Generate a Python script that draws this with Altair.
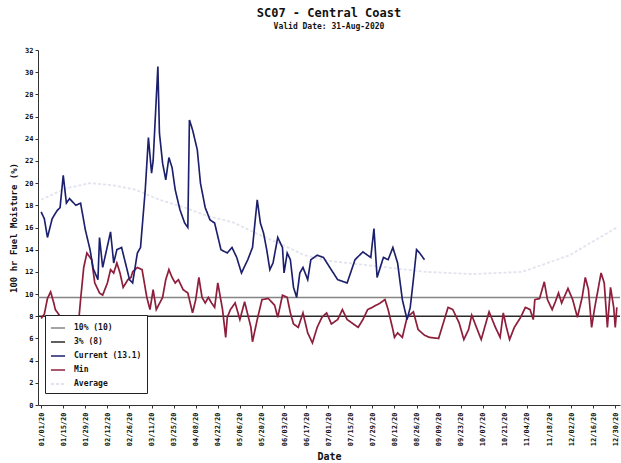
import altair as alt
import pandas as pd

# 100-hr fuel moisture, SC07 - Central Coast, 2020 (day offsets from 2020-01-01)
CUR_DAY = [0, 2, 4, 7, 10, 12, 14, 16, 18, 22, 25, 28, 31, 33, 36, 37, 39, 44, 46, 48,
           51, 55, 56, 58, 61, 63, 66, 68, 70, 71, 74, 75, 77, 79, 81, 83, 85, 88, 91, 93,
           94, 96, 99, 101, 104, 107, 110, 114, 118, 121, 124, 127, 131, 134, 137, 139, 141, 143, 145, 147,
           150, 153, 154, 156, 158, 160, 162, 164, 166, 169, 171, 175, 179, 183, 188, 194, 199, 204, 209, 211,
           213, 217, 220, 223, 226, 229, 231, 232, 234, 236, 238, 240, 243]
CUR_VAL = [17.4, 16.8, 15.1, 16.8, 17.5, 17.8, 20.7, 18.2, 18.6, 18.0, 18.2, 15.8, 14.0, 12.3, 11.3, 15.1, 12.4, 15.6, 12.8, 14.0,
           14.2, 11.9, 11.3, 11.0, 13.7, 14.2, 19.4, 24.1, 20.9, 22.0, 30.5, 24.5, 21.8, 20.3, 22.3, 21.4, 19.4, 17.6, 16.4, 16.0,
           25.7, 24.8, 23.0, 20.0, 17.8, 16.7, 16.4, 14.0, 13.7, 14.2, 13.3, 11.9, 13.1, 14.2, 18.5, 16.4, 15.5, 14.0, 12.2, 12.8,
           15.1, 14.2, 11.9, 13.7, 13.1, 10.6, 9.7, 11.9, 12.4, 11.3, 13.1, 13.5, 13.3, 12.4, 11.3, 11.0, 13.1, 13.8, 13.3, 15.9,
           11.5, 13.3, 13.1, 14.2, 12.8, 9.5, 8.3, 7.7, 8.8, 11.3, 14.0, 13.7, 13.1]

MIN_DAY = [0, 2, 4, 6, 8, 9, 12, 14, 16, 18, 20, 22, 24, 25, 27, 29, 32, 34, 37, 39,
           42, 44, 46, 48, 50, 52, 55, 57, 58, 61, 64, 67, 69, 71, 73, 77, 79, 81, 83, 85,
           87, 90, 93, 96, 98, 100, 102, 104, 106, 108, 110, 112, 115, 117, 118, 120, 123, 126, 129, 133,
           134, 137, 140, 144, 148, 150, 153, 156, 158, 160, 163, 166, 169, 172, 175, 178, 181, 184, 188, 191,
           194, 198, 201, 204, 207, 210, 215, 218, 220, 223, 224, 226, 229, 232, 236, 239, 243, 246, 252, 255,
           258, 261, 265, 268, 271, 273, 276, 279, 282, 284, 288, 291, 293, 295, 297, 300, 304, 307, 310, 312,
           313, 316, 319, 321, 324, 326, 328, 330, 334, 337, 340, 343, 345, 347, 349, 351, 355, 357, 359, 361,
           363, 364, 365]
MIN_VAL = [7.8, 8.2, 9.6, 10.2, 9.2, 8.6, 8.0, 7.6, 7.2, 7.5, 7.8, 7.4, 7.9, 9.5, 12.4, 13.7, 13.1, 11.0, 10.1, 9.9,
           11.0, 12.2, 11.9, 12.8, 11.9, 10.6, 11.3, 11.5, 12.0, 12.4, 12.2, 9.7, 8.6, 10.4, 8.6, 9.7, 11.3, 12.2, 11.5, 11.0,
           11.3, 10.4, 10.1, 8.3, 9.5, 11.5, 9.7, 9.2, 9.7, 9.2, 8.8, 11.0, 8.6, 6.1, 7.9, 8.6, 9.2, 7.7, 9.3, 7.0,
           5.7, 7.7, 9.5, 9.6, 9.0, 7.9, 9.9, 9.7, 8.3, 7.3, 7.0, 8.3, 6.5, 5.6, 7.0, 7.9, 8.3, 7.3, 7.7, 8.6,
           7.7, 7.3, 7.0, 7.7, 8.6, 8.8, 9.2, 9.5, 8.6, 6.8, 6.1, 6.5, 6.1, 7.9, 8.4, 6.8, 6.3, 6.1, 6.0, 7.4,
           8.8, 8.6, 7.4, 5.9, 6.8, 8.1, 7.0, 5.9, 7.4, 8.4, 7.0, 6.1, 8.3, 7.0, 5.9, 7.0, 7.9, 8.8, 8.6, 7.7,
           9.5, 9.6, 11.1, 9.5, 8.6, 9.3, 10.1, 9.2, 10.5, 9.5, 7.9, 9.7, 11.5, 10.4, 7.0, 8.8, 11.9, 11.0, 7.0, 10.6,
           8.8, 7.0, 8.8]

AVG_DAY = [0, 15, 31, 46, 60, 75, 91, 106, 121, 136, 152, 167, 182, 213, 244, 274, 305, 335, 365]
AVG_VAL = [18.5, 19.5, 20.0, 19.8, 19.4, 18.5, 17.8, 17.0, 16.5, 15.5, 14.5, 13.5, 13.0, 12.5, 12.0, 11.8, 12.0, 13.5, 16.0]

P10_VAL = 9.7
P3_VAL = 8.0

SERIES = ["10% (10)", "3% (8)", "Current (13.1)", "Min", "Average"]
COLORS = ["#858585", "#2a2a2a", "#1c1f6b", "#8e1f3c", "#e2e3ee"]
WIDTHS = [1.5, 1.8, 3.0, 2.5, 1.0]
DASHES = [[1, 0], [1, 0], [1, 0], [1, 0], [3, 2]]

TICK_DATES = ["2020-01-01", "2020-01-15", "2020-01-29", "2020-02-12", "2020-02-26", "2020-03-11",
              "2020-03-25", "2020-04-08", "2020-04-22", "2020-05-06", "2020-05-20", "2020-06-03",
              "2020-06-17", "2020-07-01", "2020-07-15", "2020-07-29", "2020-08-12", "2020-08-26",
              "2020-09-09", "2020-09-23", "2020-10-07", "2020-10-21", "2020-11-04", "2020-11-18",
              "2020-12-02", "2020-12-16", "2020-12-30"]

X_DOMAIN_DAYS = (-2, 367)
START = pd.Timestamp("2020-01-01")
FONT = "DejaVu Sans Mono"

assert len(CUR_DAY) == len(CUR_VAL)
assert len(MIN_DAY) == len(MIN_VAL)
assert len(AVG_DAY) == len(AVG_VAL)


def frame(days, vals, name):
    return pd.DataFrame({
        "date": [START + pd.Timedelta(days=int(d)) for d in days],
        "value": vals,
        "series": name,
    })


def dt(day):
    t = START + pd.Timedelta(days=int(day))
    return alt.DateTime(year=t.year, month=t.month, date=t.day)


df = pd.concat([
    frame(X_DOMAIN_DAYS, [P10_VAL, P10_VAL], SERIES[0]),
    frame(X_DOMAIN_DAYS, [P3_VAL, P3_VAL], SERIES[1]),
    frame(CUR_DAY, CUR_VAL, SERIES[2]),
    frame(MIN_DAY, MIN_VAL, SERIES[3]),
    frame(AVG_DAY, AVG_VAL, SERIES[4]),
], ignore_index=True)

tick_values = [alt.DateTime(year=int(s[:4]), month=int(s[5:7]), date=int(s[8:])) for s in TICK_DATES]

x_enc = alt.X(
    "date:T",
    scale=alt.Scale(domain=[dt(X_DOMAIN_DAYS[0]), dt(X_DOMAIN_DAYS[1])]),
    axis=alt.Axis(values=tick_values, format="%m/%d/%y", labelAngle=270, title="Date",
                  labelPadding=4, titlePadding=6, titleFontSize=10),
)
y_enc = alt.Y(
    "value:Q",
    scale=alt.Scale(domain=[0, 32], nice=False),
    axis=alt.Axis(values=list(range(0, 33, 2)), title="100 hr Fuel Moisture (%)",
                  titlePadding=6, titleFontSize=9),
)
color_enc = alt.Color("series:N", scale=alt.Scale(domain=SERIES, range=COLORS), title=None)
width_enc = alt.StrokeWidth("series:N", scale=alt.Scale(domain=SERIES, range=WIDTHS), title=None)
dash_enc = alt.StrokeDash("series:N", scale=alt.Scale(domain=SERIES, range=DASHES), title=None)

base = alt.Chart(df).mark_line().encode(
    x=x_enc, y=y_enc, color=color_enc, strokeWidth=width_enc, strokeDash=dash_enc
)

# draw order: reference lines, average, minimum, then the current season on top
layers = [base.transform_filter(alt.datum.series == s) for s in
          [SERIES[0], SERIES[1], SERIES[4], SERIES[3], SERIES[2]]]

chart = alt.layer(*layers).properties(
    width=582,
    height=355,
    autosize=alt.AutoSizeParams(type="none"),
    padding={"left": 38, "top": 50, "right": 1, "bottom": 58},
    title=alt.TitleParams(
        "SC07 - Central Coast",
        subtitle="Valid Date: 31-Aug-2020",
        font=FONT, fontSize=12, fontWeight="bold", color="#111111",
        subtitleFont=FONT, subtitleFontSize=8, subtitleFontWeight="bold", subtitleColor="#111111",
        subtitlePadding=3, anchor="middle", offset=14,
    ),
).configure_view(
    stroke=None
).configure_axis(
    grid=False,
    domainColor="#333333",
    tickColor="#333333",
    tickSize=3,
    labelFont=FONT,
    labelFontSize=7,
    labelFontWeight="bold",
    labelColor="#111111",
    titleFont=FONT,
    titleFontWeight="bold",
    titleColor="#111111",
).configure_legend(
    orient="none",
    legendX=7,
    legendY=265,
    fillColor="white",
    strokeColor="#222222",
    padding=5,
    symbolType="stroke",
    symbolSize=200,
    rowPadding=2,
    labelFont=FONT,
    labelFontSize=8,
    labelFontWeight="bold",
    labelColor="#111111",
    labelLimit=120,
    labelOffset=8,
    columnPadding=10,
    offset=0,
)

chart.save("out.html", embed_options={"renderer": "svg", "actions": False})
